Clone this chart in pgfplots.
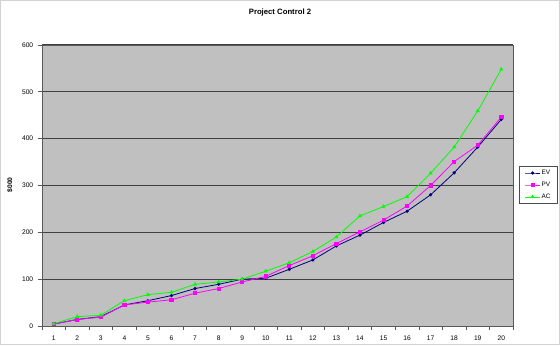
\documentclass[border=0pt]{standalone}
\usepackage{pgfplots}
\pgfplotsset{compat=1.18}
\usepackage{fontspec}
\setmainfont{Liberation Sans}
\definecolor{evc}{HTML}{000080}
\definecolor{pvc}{HTML}{FF00FF}
\definecolor{acc}{HTML}{00FF00}
\definecolor{bgc}{HTML}{C0C0C0}
\begin{document}
\begin{tikzpicture}[x=0.75pt,y=0.75pt]
\draw[gray!35,line width=0.6pt,fill=white] (0.5,0.5) rectangle (559.5,344.5);
\node[font=\bfseries\fontsize{5.8}{7}\selectfont] at (280,332) {Project Control 2};
\node[rotate=90,font=\bfseries\fontsize{5}{6}\selectfont] at (10,160) {\$000};
\begin{axis}[
  at={(31.5pt,14.25pt)}, anchor=south west,
  scale only axis, width=353.25pt, height=210.75pt,
  xmin=0.5, xmax=20.5, ymin=0, ymax=600,
  axis background/.style={fill=bgc},
  axis line style={draw=gray!70!black, line width=0.6pt},
  xtick={1,...,20}, ytick={0,100,...,600},
  minor xtick={0.5,1.5,...,20.5},
  xtick style={draw=none},
  minor x tick style={draw=gray!70!black, line width=0.5pt},
  minor x tick num=0,
  major tick length=3pt, minor tick length=3pt,
  tick align=outside,
  xtick pos=bottom, ytick pos=left,
  ytick style={draw=gray!70!black, line width=0.5pt},
  ymajorgrids, major grid style={draw=black!75, line width=0.7pt},
  tick label style={font=\fontsize{5}{6}\selectfont},
  /pgf/number format/assume math mode=true,
  xticklabel style={yshift=-1pt},
  legend style={at={(1.013,0.434)}, anchor=south west, draw=gray!60!black, line width=0.6pt, fill=white,
    font=\fontsize{4.8}{5}\selectfont, row sep=2.2pt, inner xsep=4pt, inner ysep=1.5pt,
    nodes={inner sep=1pt}},
  legend image code/.code={
    \draw[mark repeat=2,mark phase=2] plot coordinates {(0cm,0cm)(0.19cm,0cm)(0.38cm,0cm)};},
  legend cell align=left,
]
\addplot[evc, line width=0.6pt, mark=*, mark size=0.9pt] coordinates {
(1,4)(2,14)(3,20)(4,45)(5,54)(6,65)(7,80)(8,89)(9,100)(10,102)
(11,121)(12,141)(13,171)(14,194)(15,221)(16,245)(17,280)(18,327)(19,382)(20,441)};
\addlegendentry{EV}
\addplot[pvc, line width=0.6pt, mark=square*, mark size=1.2pt] coordinates {
(1,4)(2,14)(3,19)(4,45)(5,51)(6,56)(7,70)(8,80)(9,94)(10,106)
(11,129)(12,150)(13,176)(14,201)(15,226)(16,256)(17,300)(18,351)(19,386)(20,446)};
\addlegendentry{PV}
\addplot[acc, line width=0.6pt, mark=triangle*, mark size=1.2pt] coordinates {
(1,5)(2,20)(3,23)(4,54)(5,67)(6,72)(7,89)(8,94)(9,100)(10,117)
(11,135)(12,159)(13,190)(14,235)(15,255)(16,276)(17,326)(18,382)(19,459)(20,548)};
\addlegendentry{AC}
\draw[gray!70!black, line width=0.5pt] (rel axis cs:0,1) -- (rel axis cs:1,1) -- (rel axis cs:1,0);
\end{axis}
\end{tikzpicture}
\end{document}
